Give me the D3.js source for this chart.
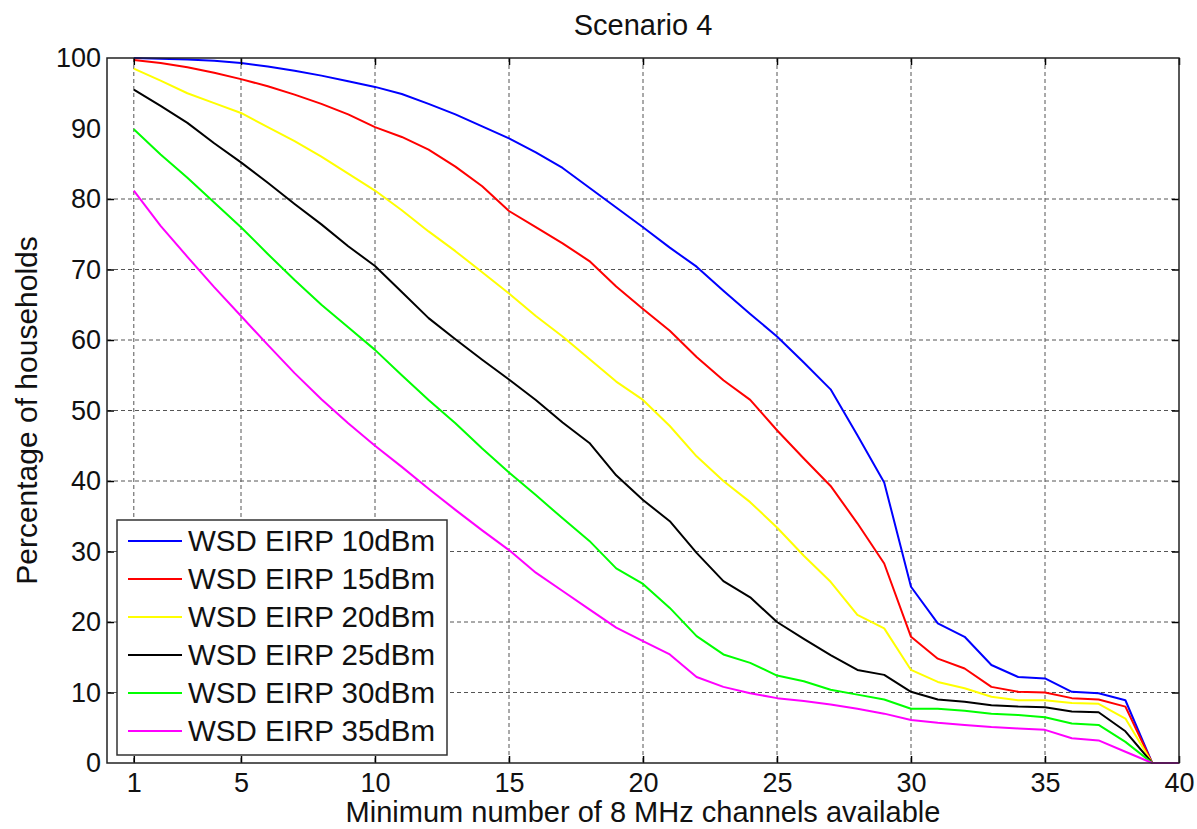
<!DOCTYPE html>
<html>
<head>
<meta charset="utf-8">
<script src="https://cdn.jsdelivr.net/npm/d3@7"></script>
<style>
  html, body { margin: 0; padding: 0; background: #ffffff; }
  svg { display: block; font-family: "Liberation Sans", Arial, Helvetica, sans-serif; }
</style>
</head>
<body>
<svg id="chart" width="1197" height="829"></svg>
<script>
// Minimum number of 8 MHz channels available
const channels = [1, 2, 3, 4, 5, 6, 7, 8, 9, 10, 11, 12, 13, 14, 15, 16, 17, 18, 19, 20,
                  21, 22, 23, 24, 25, 26, 27, 28, 29, 30, 31, 32, 33, 34, 35, 36, 37, 38, 39, 40];

// Percentage of households, one array per WSD EIRP level
const eirp10 = [100, 99.9, 99.8, 99.6, 99.3, 98.8, 98.2, 97.5, 96.7, 95.9, 94.9, 93.5, 92.0, 90.3, 88.6, 86.6, 84.4, 81.6, 78.8, 76.0,
                73.1, 70.4, 67.0, 63.7, 60.5, 56.8, 53.0, 46.5, 39.8, 25.0, 19.8, 17.9, 13.9, 12.2, 12.0, 10.1, 9.9, 8.9, 0, 0];
const eirp15 = [99.7, 99.3, 98.7, 97.9, 97.0, 96.0, 94.8, 93.5, 92.0, 90.2, 88.8, 87.0, 84.6, 81.8, 78.3, 76.0, 73.7, 71.2, 67.6, 64.4,
                61.3, 57.6, 54.3, 51.5, 47.2, 43.2, 39.3, 34.0, 28.3, 17.9, 14.8, 13.4, 10.8, 10.1, 10.0, 9.2, 9.0, 8.0, 0, 0];
const eirp20 = [98.5, 96.8, 95.0, 93.6, 92.2, 90.2, 88.2, 86.0, 83.6, 81.2, 78.4, 75.4, 72.6, 69.6, 66.6, 63.4, 60.5, 57.3, 54.1, 51.5,
                47.8, 43.5, 40.0, 37.0, 33.4, 29.4, 25.7, 21.0, 19.1, 13.2, 11.5, 10.6, 9.4, 8.9, 8.9, 8.5, 8.4, 6.3, 0, 0];
const eirp25 = [95.5, 93.2, 90.8, 87.9, 85.2, 82.3, 79.3, 76.4, 73.3, 70.5, 66.8, 63.1, 60.1, 57.2, 54.4, 51.5, 48.3, 45.4, 40.8, 37.3,
                34.3, 29.8, 25.8, 23.5, 20.0, 17.6, 15.3, 13.2, 12.5, 10.1, 9.0, 8.7, 8.2, 8.0, 7.9, 7.3, 7.2, 4.5, 0, 0];
const eirp30 = [89.9, 86.3, 83.0, 79.5, 76.0, 72.2, 68.5, 65.0, 61.8, 58.6, 55.0, 51.5, 48.2, 44.6, 41.2, 38.0, 34.7, 31.5, 27.6, 25.4,
                22.0, 18.0, 15.4, 14.2, 12.4, 11.6, 10.4, 9.7, 9.0, 7.7, 7.7, 7.4, 7.0, 6.8, 6.5, 5.6, 5.4, 3.0, 0, 0];
const eirp35 = [81.2, 76.2, 71.8, 67.5, 63.4, 59.3, 55.3, 51.6, 48.2, 45.0, 42.0, 38.9, 35.9, 33.0, 30.2, 27.0, 24.4, 21.8, 19.2, 17.3,
                15.4, 12.2, 10.8, 9.9, 9.2, 8.8, 8.3, 7.7, 7.0, 6.1, 5.7, 5.4, 5.1, 4.9, 4.7, 3.5, 3.2, 1.6, 0, 0];

const seriesNames  = ["WSD EIRP 10dBm", "WSD EIRP 15dBm", "WSD EIRP 20dBm", "WSD EIRP 25dBm", "WSD EIRP 30dBm", "WSD EIRP 35dBm"];
const seriesValues = [eirp10, eirp15, eirp20, eirp25, eirp30, eirp35];
const seriesColors = ["#0000ff", "#ff0000", "#ffff00", "#000000", "#00ff00", "#ff00ff"];

const xTickValues = [1, 5, 10, 15, 20, 25, 30, 35, 40];
const xGridValues = [1, 5, 10, 15, 20, 25, 30, 35];
const yTickValues = [0, 10, 20, 30, 40, 50, 60, 70, 80, 90, 100];
const yGridValues = [10, 20, 30, 40, 50, 60, 70, 80];

const titleText = "Scenario 4";
const xLabelText = "Minimum number of 8 MHz channels available";
const yLabelText = "Percentage of households";

// Plot frame
const plotLeft = 107, plotRight = 1179, plotTop = 58, plotBottom = 763;

const svg = d3.select("#chart");
const x = d3.scaleLinear().domain([0, 40]).range([plotLeft, plotRight]);
const y = d3.scaleLinear().domain([0, 100]).range([plotBottom, plotTop]);

// Dashed grid
const grid = svg.append("g").attr("stroke", "#555").attr("stroke-width", 1)
  .attr("stroke-dasharray", "4,3");
grid.selectAll("line.gx").data(xGridValues).join("line").attr("class", "gx")
  .attr("x1", d => x(d)).attr("x2", d => x(d)).attr("y1", plotTop).attr("y2", plotBottom);
grid.selectAll("line.gy").data(yGridValues).join("line").attr("class", "gy")
  .attr("y1", d => y(d)).attr("y2", d => y(d)).attr("x1", plotLeft).attr("x2", plotRight);

// Series lines
const line = d3.line().x((d, i) => x(channels[i])).y(d => y(d));
svg.append("g").selectAll("path").data(seriesValues).join("path")
  .attr("d", d => line(d))
  .attr("fill", "none")
  .attr("stroke", (d, i) => seriesColors[i])
  .attr("stroke-width", 2)
  .attr("stroke-linejoin", "round");

// Axes: labels on bottom/left, inward tick marks on all four sides
const tickFont = 27;
const xAxis = svg.append("g").attr("transform", `translate(0,${plotBottom})`)
  .call(d3.axisBottom(x).tickValues(xTickValues).tickFormat(d3.format("d"))
        .tickSizeInner(-7).tickSizeOuter(0).tickPadding(10));
const xAxisTop = svg.append("g").attr("transform", `translate(0,${plotTop})`)
  .call(d3.axisTop(x).tickValues(xTickValues).tickFormat("")
        .tickSizeInner(-7).tickSizeOuter(0));
const yAxis = svg.append("g").attr("transform", `translate(${plotLeft},0)`)
  .call(d3.axisLeft(y).tickValues(yTickValues).tickFormat(d3.format("d"))
        .tickSize(0).tickPadding(6));
const yTicks = svg.append("g").attr("transform", `translate(${plotLeft},0)`)
  .call(d3.axisLeft(y).tickValues(yGridValues).tickFormat("")
        .tickSizeInner(-7).tickSizeOuter(0));
const yTicksRight = svg.append("g").attr("transform", `translate(${plotRight},0)`)
  .call(d3.axisRight(y).tickValues(yGridValues).tickFormat("")
        .tickSizeInner(-7).tickSizeOuter(0));

[xAxis, xAxisTop, yAxis, yTicks, yTicksRight].forEach(g => {
  g.select(".domain").remove();
  g.selectAll(".tick line").attr("stroke", "#000").attr("stroke-width", 1.5);
  g.selectAll("text").attr("font-size", tickFont).attr("font-family", null).attr("fill", "#111");
});

// Axes box
svg.append("rect")
  .attr("x", plotLeft).attr("y", plotTop)
  .attr("width", plotRight - plotLeft).attr("height", plotBottom - plotTop)
  .attr("fill", "none").attr("stroke", "#222").attr("stroke-width", 1.5);

// Legend
const legend = svg.append("g");
legend.append("rect")
  .attr("x", 117).attr("y", 520).attr("width", 330).attr("height", 235)
  .attr("fill", "#ffffff").attr("stroke", "#333").attr("stroke-width", 1.5);
const rows = legend.selectAll("g.row").data(seriesNames).join("g").attr("class", "row")
  .attr("transform", (d, i) => `translate(0,${541 + i * 38})`);
rows.append("line")
  .attr("x1", 128).attr("x2", 182).attr("y1", 0).attr("y2", 0)
  .attr("stroke", (d, i) => seriesColors[i]).attr("stroke-width", 2);
rows.append("text")
  .attr("x", 188).attr("y", 10)
  .attr("font-size", 29.5).attr("fill", "#111")
  .text(d => d);

// Title and axis labels
svg.append("text")
  .attr("x", (plotLeft + plotRight) / 2).attr("y", 35)
  .attr("text-anchor", "middle").attr("font-size", 29).attr("fill", "#111")
  .text(titleText);
svg.append("text")
  .attr("x", (plotLeft + plotRight) / 2).attr("y", 822)
  .attr("text-anchor", "middle").attr("font-size", 29).attr("fill", "#111")
  .text(xLabelText);
svg.append("text")
  .attr("transform", `translate(37,${(plotTop + plotBottom) / 2}) rotate(-90)`)
  .attr("text-anchor", "middle").attr("font-size", 30).attr("fill", "#111")
  .text(yLabelText);
</script>
</body>
</html>
